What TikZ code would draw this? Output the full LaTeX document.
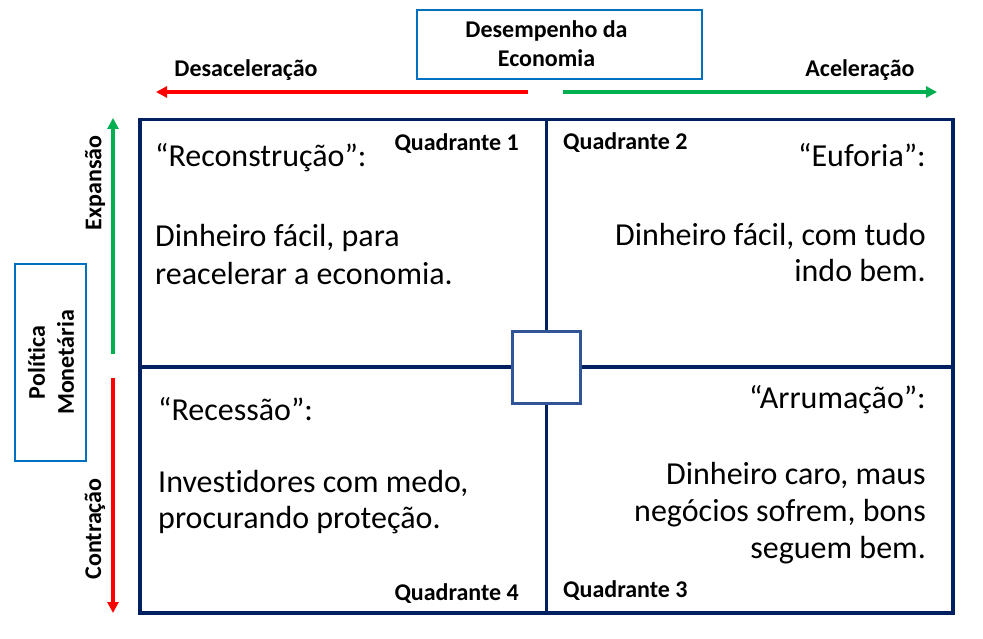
\documentclass[tikz,border=0pt]{standalone}
\usepackage{fontspec}
\setmainfont{Carlito}[Ligatures=NoCommon]
\usetikzlibrary{arrows.meta}
\definecolor{navy}{RGB}{0,32,96}
\definecolor{boxblue}{RGB}{0,112,192}
\definecolor{sqblue}{RGB}{47,85,151}
\definecolor{agreen}{RGB}{0,176,80}
\definecolor{ared}{RGB}{255,0,0}
\tikzset{
  big/.style={inner sep=0pt, font=\fontsize{32}{37}\selectfont},
  quad/.style={inner sep=0pt, font=\fontsize{24}{28}\selectfont\bfseries},
  lab/.style={inner sep=0pt, font=\fontsize{24}{29}\selectfont\bfseries, align=center},
  frame/.style={draw=navy, line width=3.3pt},
  bluebox/.style={draw=boxblue, line width=1.5pt},
  redarr/.style={draw=ared, line width=4pt, -{Triangle[width=11pt,length=11pt,fill=ared]}},
  greenarr/.style={draw=agreen, line width=4pt, -{Triangle[width=11pt,length=11pt,fill=agreen]}},
}
\begin{document}
\begin{tikzpicture}[x=1pt,y=-1pt]
\useasboundingbox (0,0) rectangle (983,639);
% grid
\draw[frame] (140,119.5) rectangle (953,613);
\coordinate (top) at (546.5,119.5);
\coordinate (bot) at (546.5,613);
\coordinate (lft) at (140,367);
\coordinate (rgt) at (953,367);
\draw[frame] (top) -- (bot);
\draw[frame] (lft) -- (rgt);
\node[draw=sqblue, line width=3pt, fill=white, minimum width=68pt, minimum height=72pt, inner sep=0pt] (sq) at (546,367) {};
% top box
\node[bluebox, minimum width=285pt, minimum height=69pt] (econ) at (559.5,44.5) {};
\node[lab, anchor=base] (econ1) at (546.5,38) {Desempenho da};
\node[lab, anchor=base] (econ2) at (546.5,67) {Economia};
\coordinate (r0) at (528,92);
\coordinate (r1) at (156,92);
\coordinate (g0) at (563,92);
\coordinate (g1) at (937,92);
\draw[redarr] (r0) -- (r1);
\draw[greenarr] (g0) -- (g1);
\node[lab, anchor=base] (desac) at (246,77) {Desaceleração};
\node[lab, anchor=base] (acel) at (860,77) {Aceleração};
% left box
\node[bluebox, minimum width=71pt, minimum height=197pt] (pol) at (50.5,362.5) {};
\node[lab, rotate=90] (poltxt) at (51,362.5) {Política\\Monetária};
\coordinate (v0) at (113,354);
\coordinate (v1) at (113,118);
\coordinate (w0) at (113,378);
\coordinate (w1) at (113,613);
\draw[greenarr] (v0) -- (v1);
\draw[redarr] (w0) -- (w1);
\node[lab, rotate=90] (exp) at (95,183) {Expansão};
\node[lab, rotate=90] (con) at (95,529) {Contração};
% quadrant labels
\node[quad, anchor=base east] (q1) at (519,151) {Quadrante 1};
\node[quad, anchor=base west] (q2) at (563,150) {Quadrante 2};
\node[quad, anchor=base east] (q4) at (519,600) {Quadrante 4};
\node[quad, anchor=base west] (q3) at (563,597) {Quadrante 3};
% quadrant 1
\node[big, anchor=base west] (t1) at (155,167) {“Reconstrução”:};
\node[big, anchor=base west] (b1a) at (155,247) {Dinheiro fácil, para};
\node[big, anchor=base west] (b1b) at (155,284) {reacelerar a economia.};
% quadrant 2
\node[big, anchor=base east] (t2) at (926,167) {“Euforia”:};
\node[big, anchor=base east] (b2a) at (926,246) {Dinheiro fácil, com tudo};
\node[big, anchor=base east] (b2b) at (926,282) {indo bem.};
% quadrant 4
\node[big, anchor=base west] (t4) at (158,420) {“Recessão”:};
\node[big, anchor=base west] (b4a) at (158,492) {Investidores com medo,};
\node[big, anchor=base west] (b4b) at (158,528) {procurando proteção.};
% quadrant 3
\node[big, anchor=base east] (t3) at (926,408) {“Arrumação”:};
\node[big, anchor=base east] (b3a) at (926,484) {Dinheiro caro, maus};
\node[big, anchor=base east] (b3b) at (926,521) {negócios sofrem, bons};
\node[big, anchor=base east] (b3c) at (926,558) {seguem bem.};
\end{tikzpicture}
\end{document}
